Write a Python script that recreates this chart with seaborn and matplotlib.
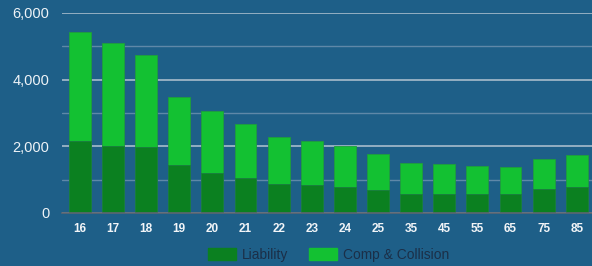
import matplotlib
matplotlib.use("Agg")
import matplotlib.pyplot as plt
import seaborn as sns
import pandas as pd
from matplotlib.patches import Patch
from matplotlib.ticker import FuncFormatter, MultipleLocator

ages = ["16", "17", "18", "19", "20", "21", "22", "23", "24", "25", "35", "45", "55", "65", "75", "85"]
liability = [2150, 2020, 1980, 1440, 1210, 1040, 880, 830, 770, 680, 580, 580, 580, 580, 710, 770]
comp_collision = [3280, 3080, 2770, 2050, 1860, 1640, 1410, 1320, 1250, 1080, 920, 890, 820, 790, 920, 960]

total = [a + b for a, b in zip(liability, comp_collision)]
df = pd.DataFrame({"age": ages, "Liability": liability, "Total": total})

BG = "#1e5f88"
DARK = "#0b8020"
LIGHT = "#13c132"

sns.set_theme(style="white")
plt.rcParams["font.family"] = ["Liberation Sans", "DejaVu Sans"]

fig = plt.figure(figsize=(5.92, 2.66), dpi=100, facecolor=BG)
ax = fig.add_axes([62 / 592, 53 / 266, 530 / 592, 200 / 266])
ax.set_facecolor(BG)

sns.barplot(data=df, x="age", y="Total", color=LIGHT, width=0.66, saturation=1,
            edgecolor="#1f9e3c", linewidth=0.6, ax=ax, zorder=3)
sns.barplot(data=df, x="age", y="Liability", color=DARK, width=0.66, saturation=1,
            edgecolor="#1a7a40", linewidth=0.6, ax=ax, zorder=4)

ax.set_ylim(0, 6000)
ax.set_xlim(-0.54, 15.46)
ax.yaxis.set_major_locator(MultipleLocator(2000))
ax.yaxis.set_minor_locator(MultipleLocator(1000))
ax.yaxis.set_major_formatter(FuncFormatter(lambda v, p: f"{int(v):,}"))
ax.grid(axis="y", which="major", color="#a8bccc", linewidth=1.2, zorder=0)
ax.grid(axis="y", which="minor", color="#5f88a8", linewidth=1.0, zorder=0)
ax.grid(axis="x", visible=False)
for s in ["top", "right", "left"]:
    ax.spines[s].set_visible(False)
ax.spines["bottom"].set_color("#5d6670")
ax.spines["bottom"].set_linewidth(1.2)
ax.spines["bottom"].set_zorder(5)

ax.set_xlabel("")
ax.set_ylabel("")
ax.tick_params(axis="y", which="both", length=0, labelsize=10.5, labelcolor="#eef3f7", pad=9)
ax.tick_params(axis="x", length=0, labelsize=8.5, labelcolor="#f2f5f8", pad=7)
for t in ax.get_xticklabels():
    t.set_fontweight("bold")

handles = [Patch(facecolor=DARK, edgecolor=DARK, label="Liability"),
           Patch(facecolor=LIGHT, edgecolor=LIGHT, label="Comp & Collision")]
fig.legend(handles=handles, loc="lower center", bbox_to_anchor=(0.555, -0.03), ncol=2,
           frameon=False, fontsize=9.9, labelcolor="#1b2f48",
           handlelength=2.05, handleheight=1.0, columnspacing=1.5, handletextpad=0.45)

fig.savefig("out.png", dpi=100, facecolor=BG)
